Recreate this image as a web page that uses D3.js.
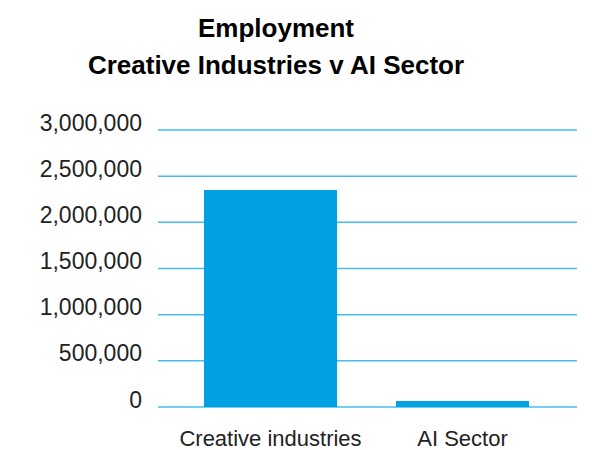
<!DOCTYPE html>
<html>
<head>
<meta charset="utf-8">
<script src="https://cdn.jsdelivr.net/npm/d3@7"></script>
<style>
  body { margin: 0; background: #fff; }
  text { font-family: "Liberation Sans", Arial, sans-serif; }
</style>
</head>
<body>
<div id="chart"></div>
<script>
// Chart data
var categories = ["Creative industries", "AI Sector"];
var employment = [2350000, 64500];
var tickValues = [0, 500000, 1000000, 1500000, 2000000, 2500000, 3000000];
var titleLines = ["Employment", "Creative Industries v AI Sector"];

// SVG area
var svgWidth = 592;
var svgHeight = 450;

var svg = d3.select("#chart")
    .append("svg")
    .attr("width", svgWidth)
    .attr("height", svgHeight);

// Scales
var gridLeft = 158, gridRight = 577;
var yScale = d3.scaleLinear()
    .domain([0, 3000000])
    .range([407, 130]);

var xScale = d3.scaleBand()
    .domain(categories)
    .range([204, 529])
    .paddingInner(0.307)
    .paddingOuter(0);

// Gridlines
svg.append("g")
    .selectAll("line")
    .data(tickValues)
    .enter()
    .append("line")
    .attr("x1", gridLeft)
    .attr("x2", gridRight)
    .attr("y1", d => yScale(d))
    .attr("y2", d => yScale(d))
    .attr("stroke", "#45bdf0")
    .attr("stroke-width", 1.5);

// Y axis labels
var yAxis = d3.axisLeft(yScale)
    .tickValues(tickValues)
    .tickFormat(d3.format(","))
    .tickSize(0)
    .tickPadding(0);

var yG = svg.append("g")
    .attr("transform", "translate(142, 0)")
    .call(yAxis);
yG.select(".domain").remove();
yG.selectAll("text")
    .attr("dy", "0")
    .attr("font-size", 23)
    .attr("fill", "#222")
    .style("font-family", "Liberation Sans, Arial, sans-serif");

// Bars
svg.append("g")
    .selectAll("rect")
    .data(categories)
    .enter()
    .append("rect")
    .attr("x", d => xScale(d))
    .attr("width", xScale.bandwidth())
    .attr("y", (d, i) => yScale(employment[i]))
    .attr("height", (d, i) => yScale(0) - yScale(employment[i]))
    .attr("fill", "#00a0e3");

// X axis labels
var xAxis = d3.axisBottom(xScale).tickSize(0).tickPadding(0);
var xG = svg.append("g")
    .attr("transform", "translate(0, 446)")
    .call(xAxis);
xG.select(".domain").remove();
xG.selectAll("text")
    .attr("dy", "0")
    .attr("font-size", 22)
    .attr("fill", "#222")
    .style("font-family", "Liberation Sans, Arial, sans-serif");

// Title
svg.append("g")
    .selectAll("text")
    .data(titleLines)
    .enter()
    .append("text")
    .attr("x", 276)
    .attr("y", (d, i) => 37 + i * 37)
    .attr("text-anchor", "middle")
    .attr("font-size", 26)
    .attr("font-weight", "bold")
    .attr("fill", "#000")
    .text(d => d);
</script>
</body>
</html>
